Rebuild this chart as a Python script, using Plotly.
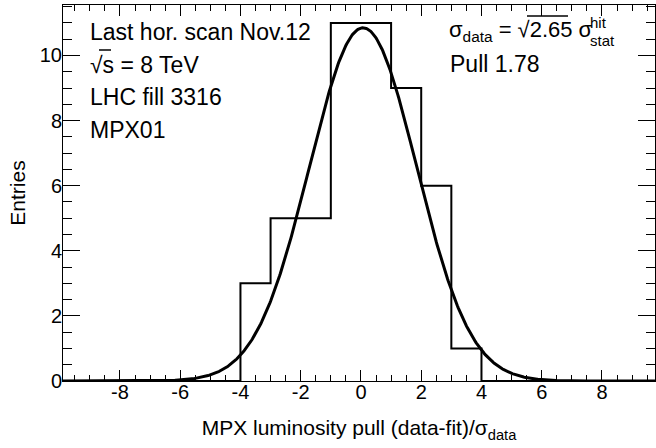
import numpy as np
import plotly.graph_objects as go

# ---- data ----
bin_low_edges = [-4, -3, -2, -1, 0, 1, 2, 3]
bin_counts = [3, 5, 5, 11, 11, 9, 6, 1]
bin_width = 1.0
hist_min, hist_max = -10.0, 10.0

fit_amplitude = 10.85
fit_mean = 0.07
fit_sigma = 1.78

x_ticks = [-8, -6, -4, -2, 0, 2, 4, 6, 8]
x_tick_labels = ["-8", "-6", "-4", "-2", "0", "2", "4", "6", "8"]
y_ticks = [0, 2, 4, 6, 8, 10]
y_tick_labels = ["0", "2", "4", "6", "8", "10"]

# ---- geometry ----
W, H = 656, 448
L, R, T, B = 63, 1, 5, 67
PW, PH = W - L - R, H - T - B
XR = [-9.89, 9.76]
YR = [0, 11.55]

FONT = "Liberation Sans, Arial, Helvetica, sans-serif"


def px(xp):
    return (xp - L) / PW


def py(yp):
    return (H - B - yp) / PH


# histogram outline (step)
hx = [hist_min] + list(bin_low_edges) + [bin_low_edges[-1] + bin_width, hist_max]
hy = [0] + list(bin_counts) + [0, 0]

# fit curve
fx = np.linspace(hist_min, hist_max, 801)
fy = fit_amplitude * np.exp(-((fx - fit_mean) ** 2) / (2 * fit_sigma ** 2))

fig = go.Figure()
fig.add_trace(go.Scatter(x=hx, y=hy, mode="lines", line=dict(shape="hv", color="black", width=2),
                         showlegend=False, hoverinfo="skip"))
fig.add_trace(go.Scatter(x=fx, y=fy, mode="lines", line=dict(color="black", width=3),
                         showlegend=False, hoverinfo="skip"))

fig.update_layout(
    width=W, height=H,
    margin=dict(l=L, r=R, t=T, b=B, autoexpand=False),
    paper_bgcolor="white", plot_bgcolor="white",
    font=dict(family=FONT, color="black", size=20),
    showlegend=False,
)
fig.update_xaxes(
    range=XR, tickvals=x_ticks, ticktext=x_tick_labels, ticks="inside", ticklen=11, tickwidth=1,
    tickcolor="black", automargin=False,
    showline=True, linecolor="black", linewidth=1, mirror="ticks", showgrid=False, zeroline=False,
    minor=dict(dtick=0.5, tick0=0, ticks="inside", ticklen=6, tickwidth=1, tickcolor="black", showgrid=False),
    tickfont=dict(size=20), ticklabelstandoff=-7,
    title=dict(text="MPX luminosity pull (data-fit)/σ<sub>data</sub>", font=dict(size=21), standoff=18),
)
fig.update_yaxes(
    range=YR, tickvals=y_ticks, ticktext=y_tick_labels, ticks="inside", ticklen=17, tickwidth=1,
    tickcolor="black", automargin=False,
    showline=True, linecolor="black", linewidth=1, mirror="ticks", showgrid=False, zeroline=False,
    minor=dict(dtick=0.5, tick0=0, ticks="inside", ticklen=9, tickwidth=1, tickcolor="black", showgrid=False),
    tickfont=dict(size=20), ticklabelstandoff=-4,
    title=dict(text="Entries", font=dict(size=21), standoff=8),
)

ann = []
left_lines = [("Last hor. scan Nov.12", 32), ("√s = 8 TeV", 65), ("LHC fill 3316", 97), ("MPX01", 130)]
for txt, yc in left_lines:
    ann.append(dict(text=txt, x=px(90), y=py(yc), xref="paper", yref="paper", xanchor="left",
                    yanchor="middle", showarrow=False, font=dict(size=23), xshift=-2))
ann.append(dict(text="σ<sub>data</sub> = √2.65 σ", x=px(450), y=py(31), xref="paper", yref="paper",
                xanchor="left", yanchor="middle", showarrow=False, font=dict(size=22), xshift=-2,
                borderpad=0))
ann.append(dict(text="hit", x=px(589), y=py(22), xref="paper", yref="paper",
                xanchor="left", yanchor="middle", showarrow=False, font=dict(size=15), borderpad=0))
ann.append(dict(text="stat", x=px(589), y=py(41), xref="paper", yref="paper",
                xanchor="left", yanchor="middle", showarrow=False, font=dict(size=15), borderpad=0))
ann.append(dict(text="Pull 1.78", x=px(450), y=py(64), xref="paper", yref="paper",
                xanchor="left", yanchor="middle", showarrow=False, font=dict(size=23), xshift=-2))
fig.update_layout(annotations=ann)

# radical overbars (as in the ROOT #sqrt rendering)
for x0, x1, yy in [(527, 568, 16), (99, 111, 50)]:
    fig.add_shape(type="line", xref="paper", yref="paper", x0=px(x0), x1=px(x1), y0=py(yy), y1=py(yy),
                  line=dict(color="black", width=1.5))

fig.write_html(
    "out.html",
    config={"displayModeBar": False},
    post_script="document.body.style.margin='0';document.body.style.padding='0';"
                "document.documentElement.style.overflow='hidden';",
)
